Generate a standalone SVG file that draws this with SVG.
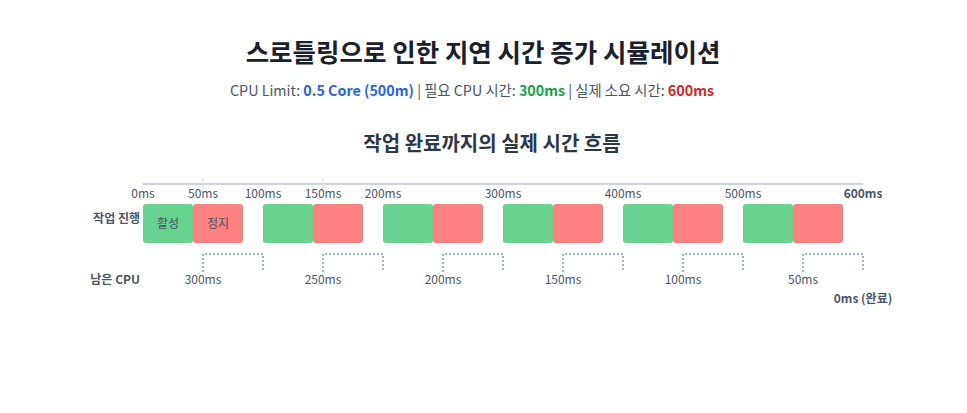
<svg xmlns="http://www.w3.org/2000/svg" width="967" height="413" viewBox="0 0 967 413">
<style>
text{font-family:"Noto Sans CJK KR","Noto Sans",sans-serif;}
.title{font-size:25.5px;font-weight:700;fill:#1a202c;text-anchor:middle;}
.sub{font-size:14.3px;fill:#4a5568;text-anchor:middle;}
.sec{font-size:20px;font-weight:700;fill:#2d3748;text-anchor:middle;}
.tick{font-size:12px;fill:#4a5568;text-anchor:middle;}
.row{font-size:12px;font-weight:700;fill:#4a5568;text-anchor:end;}
.lbl{font-size:12px;fill:#4a5568;text-anchor:middle;}
.blk{font-size:12px;fill:#4a5568;text-anchor:middle;}
.on{fill:#68d391;}
.off{fill:#fc8181;}
.br{fill:none;stroke:#90b8e0;stroke-width:2;stroke-dasharray:2 2;}
</style>
<rect width="967" height="413" fill="#ffffff"/>
<text class="title" x="483" y="62">스로틀링으로 인한 지연 시간 증가 시뮬레이션</text>
<text class="sub" x="472" y="96">CPU Limit: <tspan fill="#2563eb" font-weight="700">0.5 Core (500m)</tspan> | 필요 CPU 시간: <tspan fill="#16a34a" font-weight="700">300ms</tspan> | 실제 소요 시간: <tspan fill="#dc2626" font-weight="700">600ms</tspan></text>
<text class="sec" x="492" y="151">작업 완료까지의 실제 시간 흐름</text>
<g id="axis">
<line x1="143" y1="184" x2="863" y2="184" stroke="#cbd5e0" stroke-width="2"/>
<line x1="203" y1="178" x2="203" y2="188" stroke="#e2e8f0" stroke-width="1.5"/>
<line x1="323" y1="178" x2="323" y2="188" stroke="#e2e8f0" stroke-width="1.5"/>
<text class="tick" x="143" y="198">0ms</text>
<text class="tick" x="203" y="198">50ms</text>
<text class="tick" x="263" y="198">100ms</text>
<text class="tick" x="323" y="198">150ms</text>
<text class="tick" x="383" y="198">200ms</text>
<text class="tick" x="503" y="198">300ms</text>
<text class="tick" x="623" y="198">400ms</text>
<text class="tick" x="743" y="198">500ms</text>
<text class="tick" x="863" y="198" font-weight="700" fill="#2d3748">600ms</text>
</g>
<text class="row" x="140" y="223">작업 진행</text>
<text class="row" x="140" y="284">남은 CPU</text>
<g id="b1"><rect class="on" x="143" y="204" width="50" height="39" rx="3"/><text class="blk" x="168" y="228">활성</text></g>
<g id="b2"><rect class="off" x="193" y="204" width="50" height="39" rx="3"/><text class="blk" x="218" y="228">정지</text></g>
<g id="b3"><rect class="on" x="263" y="204" width="50" height="39" rx="3"/></g>
<g id="b4"><rect class="off" x="313" y="204" width="50" height="39" rx="3"/></g>
<g id="b5"><rect class="on" x="383" y="204" width="50" height="39" rx="3"/></g>
<g id="b6"><rect class="off" x="433" y="204" width="50" height="39" rx="3"/></g>
<g id="b7"><rect class="on" x="503" y="204" width="50" height="39" rx="3"/></g>
<g id="b8"><rect class="off" x="553" y="204" width="50" height="39" rx="3"/></g>
<g id="b9"><rect class="on" x="623" y="204" width="50" height="39" rx="3"/></g>
<g id="b10"><rect class="off" x="673" y="204" width="50" height="39" rx="3"/></g>
<g id="b11"><rect class="on" x="743" y="204" width="50" height="39" rx="3"/></g>
<g id="b12"><rect class="off" x="793" y="204" width="50" height="39" rx="3"/></g>
<g id="connectors">
<path class="br" d="M203 272V254H263V272"/>
<path class="br" d="M323 272V254H383V272"/>
<path class="br" d="M443 272V254H503V272"/>
<path class="br" d="M563 272V254H623V272"/>
<path class="br" d="M683 272V254H743V272"/>
<path class="br" d="M803 272V254H863V272"/>
</g>
<text class="lbl" x="203" y="284">300ms</text>
<text class="lbl" x="323" y="284">250ms</text>
<text class="lbl" x="443" y="284">200ms</text>
<text class="lbl" x="563" y="284">150ms</text>
<text class="lbl" x="683" y="284">100ms</text>
<text class="lbl" x="803" y="284">50ms</text>
<text class="lbl" x="863" y="303" font-weight="700" fill="#2d3748">0ms (완료)</text>
</svg>
